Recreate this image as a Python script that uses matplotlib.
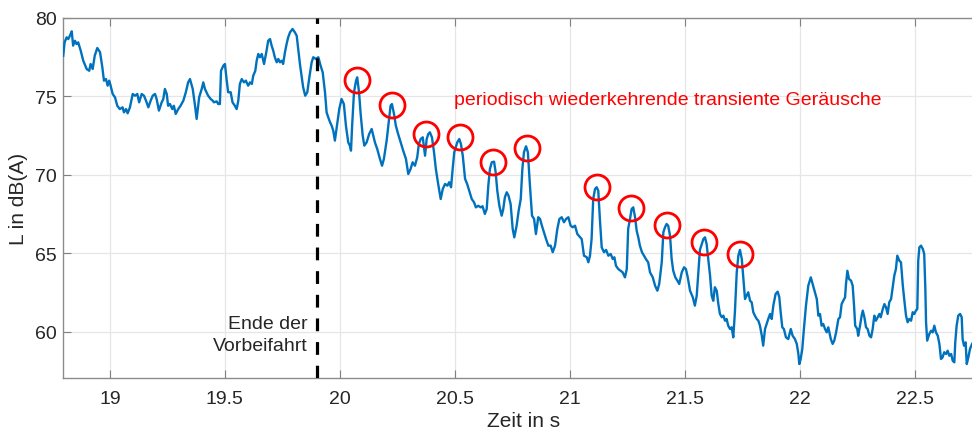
import matplotlib.pyplot as plt

plt.rcParams['font.family'] = ['Liberation Sans', 'DejaVu Sans']

# Schalldruckpegel ueber der Zeit
t_s = [
    18.797, 18.803, 18.812, 18.819, 18.826, 18.834, 18.840, 18.848, 18.855, 18.862,
    18.873, 18.884, 18.899, 18.910, 18.916, 18.925, 18.934, 18.945, 18.957, 18.967,
    18.974, 18.983, 18.990, 18.997, 19.003, 19.012, 19.022, 19.032, 19.043, 19.055,
    19.061, 19.070, 19.077, 19.087, 19.099, 19.109, 19.119, 19.127, 19.138, 19.148,
    19.157, 19.167, 19.177, 19.186, 19.196, 19.203, 19.213, 19.225, 19.232, 19.239,
    19.247, 19.253, 19.261, 19.271, 19.278, 19.286, 19.297, 19.307, 19.319, 19.330,
    19.340, 19.348, 19.360, 19.370, 19.377,
    19.388, 19.399, 19.406, 19.413, 19.420, 19.427, 19.438, 19.447, 19.452, 19.464,
    19.471, 19.478, 19.483, 19.493, 19.500, 19.507, 19.514, 19.525, 19.533, 19.543,
    19.551, 19.558, 19.565, 19.573, 19.583, 19.591, 19.601, 19.609, 19.617, 19.623,
    19.632, 19.638, 19.645, 19.652, 19.660, 19.670, 19.681, 19.688, 19.696, 19.703,
    19.710, 19.717, 19.725, 19.732, 19.739, 19.747, 19.753, 19.761, 19.768, 19.775,
    19.783, 19.794, 19.804, 19.812, 19.826, 19.840, 19.849, 19.858, 19.867, 19.877,
    19.884, 19.896, 19.906, 19.916,
    19.925, 19.935, 19.942, 19.949, 19.957, 19.964, 19.971, 19.978, 19.988, 19.997,
    20.007, 20.017, 20.026, 20.036, 20.043, 20.048, 20.053, 20.061, 20.070, 20.075,
    20.083, 20.090, 20.099, 20.106, 20.116, 20.127, 20.138, 20.145, 20.152, 20.162,
    20.174, 20.183, 20.191, 20.203, 20.212, 20.220, 20.226, 20.235, 20.243, 20.253,
    20.264, 20.275, 20.287, 20.297, 20.307, 20.316, 20.326, 20.336, 20.343, 20.351,
    20.360, 20.370, 20.377, 20.384, 20.391, 20.400, 20.409, 20.417, 20.427, 20.438,
    20.447, 20.457, 20.467, 20.475, 20.483, 20.490, 20.497,
    20.510, 20.519, 20.526, 20.534, 20.544, 20.553, 20.562, 20.573, 20.583, 20.591,
    20.601, 20.612, 20.620, 20.630, 20.638, 20.645, 20.652, 20.660, 20.670, 20.677,
    20.684, 20.693, 20.703, 20.710, 20.717, 20.725, 20.733, 20.742, 20.751, 20.758,
    20.768, 20.777, 20.786, 20.793, 20.800, 20.809, 20.817, 20.826, 20.835, 20.844,
    20.852, 20.862, 20.870, 20.878, 20.887, 20.896, 20.906, 20.916, 20.925, 20.935,
    20.945, 20.954, 20.964, 20.974, 20.983, 20.993, 21.003, 21.012, 21.022, 21.032,
    21.043,
    21.051, 21.061, 21.073, 21.080, 21.087, 21.094, 21.101, 21.109, 21.116, 21.123,
    21.130, 21.138, 21.148, 21.157, 21.167, 21.177, 21.186, 21.193, 21.200, 21.210,
    21.220, 21.229, 21.239, 21.247, 21.253, 21.261, 21.268, 21.275, 21.283, 21.290,
    21.297, 21.304, 21.313, 21.322, 21.330, 21.340, 21.348, 21.360, 21.370, 21.380,
    21.388, 21.399, 21.406, 21.413, 21.420, 21.427, 21.435, 21.442, 21.449, 21.458,
    21.467, 21.475, 21.486, 21.496, 21.504, 21.512, 21.522, 21.534, 21.543, 21.551,
    21.558, 21.565, 21.573, 21.580, 21.587, 21.594, 21.601, 21.609,
    21.616, 21.623, 21.630, 21.638, 21.645, 21.652, 21.660, 21.667, 21.674, 21.681,
    21.688, 21.696, 21.703, 21.710, 21.717, 21.725, 21.732, 21.739, 21.747, 21.753,
    21.761, 21.768, 21.775, 21.783, 21.790, 21.797, 21.804, 21.812, 21.819, 21.826,
    21.834, 21.840, 21.848, 21.855, 21.862, 21.870, 21.877, 21.884, 21.894, 21.903,
    21.910, 21.916, 21.923, 21.930, 21.939, 21.949, 21.960, 21.968, 21.978, 21.986,
    21.993, 21.997, 22.003, 22.010, 22.017, 22.026, 22.036, 22.047, 22.055, 22.065,
    22.073, 22.080, 22.087, 22.094, 22.101, 22.109, 22.116, 22.123, 22.134, 22.142,
    22.149, 22.157, 22.167,
    22.174, 22.181, 22.188, 22.196, 22.200, 22.206, 22.213, 22.222, 22.229, 22.235,
    22.240, 22.249, 22.253, 22.261, 22.268, 22.273, 22.280, 22.287, 22.294, 22.302,
    22.309, 22.316, 22.323, 22.330, 22.338, 22.345, 22.351, 22.360, 22.367, 22.374,
    22.381, 22.388, 22.396, 22.403, 22.410, 22.417, 22.423, 22.432, 22.439, 22.447,
    22.453, 22.461, 22.468, 22.475, 22.483, 22.490, 22.497, 22.504, 22.510, 22.514,
    22.519, 22.526, 22.534, 22.540, 22.545, 22.548, 22.553, 22.562, 22.570, 22.577,
    22.584, 22.591, 22.599, 22.606, 22.613, 22.620, 22.627, 22.635, 22.642, 22.649,
    22.657, 22.664, 22.671, 22.675, 22.681, 22.688, 22.696, 22.703, 22.707, 22.713,
    22.720, 22.725, 22.732, 22.739, 22.748,
]

L_dBA = [
    77.60, 78.45, 78.77, 78.66, 78.87, 79.15, 78.24, 78.55, 78.34, 78.45,
    77.92, 77.28, 76.75, 76.64, 77.07, 76.75, 77.60, 78.09, 77.82, 76.86,
    76.01, 76.11, 75.69, 76.01, 75.69, 75.16, 74.95, 74.41, 74.20, 74.31,
    73.99, 74.20, 73.93, 74.31, 75.16, 75.05, 75.16, 74.63, 75.16, 75.05,
    74.73, 74.31, 74.73, 75.05, 75.16, 74.84, 74.10, 74.63, 74.84, 75.48,
    75.16, 74.41, 74.52, 74.20, 74.41, 73.89, 74.20, 74.41, 74.73, 75.27,
    75.90, 76.11, 75.48, 74.41, 73.57,
    74.95, 75.48, 75.90, 75.48, 75.27, 75.05, 74.84, 74.73, 74.63, 74.69,
    74.52, 74.52, 76.64, 76.96, 77.07, 76.11, 75.27, 75.27, 74.63, 74.41,
    74.20, 74.73, 75.80, 76.11, 75.90, 76.01, 75.69, 75.90, 75.80, 76.32,
    76.64, 77.28, 77.71, 77.50, 77.71, 77.07, 77.92, 78.55, 78.66, 78.24,
    77.92, 77.50, 77.18, 77.39, 77.18, 77.28, 77.07, 77.82, 78.34, 78.77,
    79.09, 79.30, 79.09, 78.87, 77.07, 75.59, 75.05, 75.27, 76.22, 77.18,
    77.50, 77.39, 77.50, 76.96,
    76.54, 75.27, 73.99, 73.68, 73.36, 73.14, 72.82, 72.19, 73.25, 74.20,
    74.84, 74.52, 73.14, 72.08, 71.87, 71.55, 73.14, 75.27, 76.01, 76.22,
    75.27, 73.89, 72.50, 71.87, 72.08, 72.61, 72.93, 72.50, 72.08, 71.66,
    71.02, 70.59, 71.02, 72.19, 73.36, 74.41, 74.52, 73.89, 73.14, 72.61,
    72.08, 71.55, 71.02, 70.06, 70.38, 70.81, 70.59, 71.13, 71.97, 72.29,
    72.40, 71.23, 72.29, 72.61, 72.72, 72.40, 71.45, 70.38, 69.43, 68.47,
    69.11, 69.43, 69.32, 69.54, 69.22, 70.38, 71.45,
    72.08, 72.29, 71.97, 71.23, 69.75, 69.43, 69.00, 68.47, 68.26, 67.94,
    68.04, 67.94, 68.01, 67.52, 67.83, 69.32, 70.38, 70.81, 70.85, 70.17,
    69.00, 68.04, 67.41, 67.83, 68.58, 68.90, 68.68, 68.15, 66.56, 66.03,
    66.77, 67.73, 68.47, 70.38, 71.45, 71.83, 71.45, 69.32, 67.41, 67.20,
    66.24, 67.31, 67.20, 66.77, 66.35, 65.92, 65.50, 65.50, 65.08, 65.50,
    66.56, 67.20, 67.31, 66.99, 67.20, 67.31, 66.77, 66.67, 66.77, 66.24,
    66.05,
    65.92, 64.86, 64.76, 64.44, 64.86, 65.92, 68.47, 69.11, 69.22, 69.00,
    67.20, 65.39, 65.08, 65.23, 64.86, 64.97, 64.65, 64.76, 64.22, 64.01,
    63.90, 63.80, 63.48, 64.01, 66.56, 67.20, 67.83, 67.94, 67.31, 66.45,
    66.03, 65.50, 65.08, 64.86, 64.65, 64.44, 63.80, 63.48, 62.95, 62.63,
    63.06, 64.44, 66.35, 66.67, 66.88, 66.77, 66.13, 64.65, 63.90, 63.48,
    63.27, 63.06, 63.80, 64.12, 64.01, 63.48, 62.63, 62.21, 61.68, 62.31,
    63.80, 65.23, 65.61, 65.92, 66.03, 65.61, 64.65, 63.59,
    62.31, 61.99, 62.85, 62.63, 61.78, 61.15, 60.94, 61.04, 60.72, 60.83,
    60.40, 60.19, 60.30, 59.66, 61.26, 63.80, 64.86, 65.23, 64.65, 63.59,
    62.10, 62.31, 62.53, 61.99, 61.89, 61.26, 61.04, 60.83, 60.72, 60.40,
    59.76, 59.13, 60.19, 60.51, 60.83, 61.15, 60.83, 61.68, 62.42, 62.57,
    62.21, 61.26, 60.30, 60.19, 59.66, 59.55, 60.19, 59.76, 59.55, 59.24,
    58.60, 57.96, 58.28, 58.92, 60.19, 61.68, 62.95, 63.48, 63.06, 62.53,
    62.10, 61.04, 61.15, 60.40, 60.51, 60.19, 59.98, 60.30, 59.55, 59.24,
    59.45, 59.98, 60.83,
    60.94, 61.78, 61.99, 62.21, 63.06, 63.90, 63.38, 63.27, 62.95, 61.68,
    60.40, 60.19, 59.76, 60.40, 61.04, 61.36, 60.94, 60.30, 60.19, 59.76,
    59.66, 60.19, 61.04, 60.72, 60.94, 61.15, 60.94, 61.47, 61.78, 61.57,
    61.15, 61.89, 62.10, 62.85, 63.59, 64.01, 64.86, 64.54, 64.44, 62.95,
    62.10, 61.04, 60.62, 60.83, 60.72, 61.26, 61.15, 61.36, 61.47, 64.54,
    65.39, 65.50, 65.29, 64.97, 62.74, 60.62, 59.45, 59.87, 60.08, 59.98,
    60.40, 59.98, 59.76, 59.24, 58.28, 58.39, 58.71, 58.60, 58.81, 58.49,
    58.60, 58.17, 58.07, 59.34, 60.40, 61.04, 61.15, 60.94, 59.55, 59.13,
    59.34, 57.96, 58.39, 58.92, 59.24,
]

# markierte Spitzen der wiederkehrenden Geraeusche
peak_t = [20.075, 20.225, 20.374, 20.522, 20.664, 20.814, 21.116, 21.264, 21.423, 21.583, 21.739]
peak_L = [76.07, 74.48, 72.61, 72.40, 70.81, 71.70, 69.22, 67.88, 66.82, 65.75, 64.97]

t_ende = 19.9
x_ticks = [19, 19.5, 20, 20.5, 21, 21.5, 22, 22.5]
x_labels = ['19', '19.5', '20', '20.5', '21', '21.5', '22', '22.5']
y_ticks = [60, 65, 70, 75, 80]

W, H = 972, 435
fig = plt.figure(figsize=(W / 100, H / 100), dpi=100)
ax = fig.add_axes([63 / W, 1 - 379 / H, (985 - 63) / W, (379 - 19) / H])

ax.plot(t_s, L_dBA, color='#0072BD', lw=1.7, zorder=3)
ax.axvline(t_ende, color='k', lw=2.3, dashes=(4, 3.4), zorder=4)
ax.plot(peak_t, peak_L, 'o', ms=18, mfc='none', mec='#ff0000', mew=2, zorder=5)

ax.text(19.861, 59.85, 'Ende der\nVorbeifahrt', ha='right', va='center',
        multialignment='right', fontsize=14, color='#262626', linespacing=1.42)
ax.text(20.496, 74.84, 'periodisch wiederkehrende transiente Geräusche',
        color='#ff0000', fontsize=14, va='center')

ax.set_xlim(18.796, 18.5217 + 985 / 230)
ax.set_ylim(57.07, 80)
ax.set_xticks(x_ticks)
ax.set_xticklabels(x_labels)
ax.set_yticks(y_ticks)
ax.grid(True, color='#e6e6e6', lw=0.9, zorder=0)
ax.set_axisbelow(True)
ax.tick_params(direction='in', length=6, width=0.8, top=True, right=True,
               color='#808080', labelcolor='#262626', labelsize=14)
ax.tick_params(axis='x', pad=8.5)
ax.tick_params(axis='y', pad=4.5)
for sp in ax.spines.values():
    sp.set_color('#8c8c8c')
    sp.set_linewidth(1.0)

ax.set_xlabel('Zeit in s', fontsize=15, color='#262626', labelpad=3)
ax.set_ylabel('L in dB(A)', fontsize=15, color='#262626', labelpad=5)

fig.savefig('out.png', dpi=100)
